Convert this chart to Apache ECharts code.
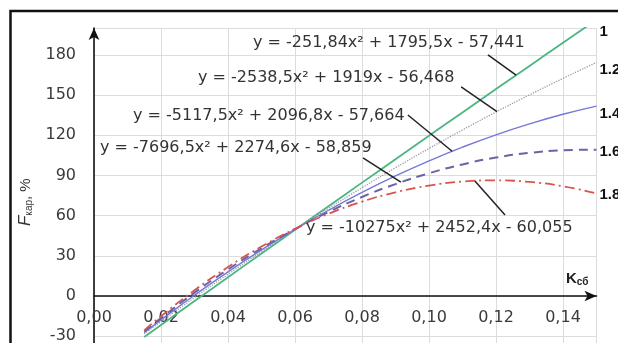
<!DOCTYPE html>
<html>
<head>
<meta charset="utf-8">
<script src="https://cdn.jsdelivr.net/npm/echarts@6/dist/echarts.min.js"></script>
<style>
  html, body { margin: 0; padding: 0; background: #fff; }
  #chart { width: 618px; height: 343px; }
</style>
</head>
<body>
<div id="chart"></div>
<script>
// Relative coefficient K_sb along the x axis
const kValues = [0.015, 0.02, 0.03, 0.04, 0.05, 0.06, 0.07, 0.08, 0.09, 0.10, 0.11, 0.12, 0.13, 0.14, 0.15];

// F_kap, % for each curve family
const curve1_0 = [-30.6, -21.6, -3.8, 14.0, 31.7, 49.4, 67.0, 84.6, 102.1, 119.6, 137.0, 154.4, 171.7, 189.0, 206.2];
const curve1_2 = [-28.3, -19.1, -1.2, 16.2, 33.1, 49.5, 65.4, 80.8, 95.7, 110.1, 123.9, 137.3, 150.1, 162.4, 174.3];
const curve1_4 = [-27.4, -17.8, 0.6, 18.0, 34.4, 49.7, 64.0, 77.3, 89.6, 100.8, 111.1, 120.3, 128.4, 135.6, 141.7];
const curve1_6 = [-26.5, -16.5, 2.5, 19.8, 35.6, 49.9, 62.7, 73.9, 83.5, 91.6, 98.2, 103.3, 106.8, 108.7, 109.2];
const curve1_8 = [-25.6, -15.1, 4.3, 21.6, 36.9, 50.1, 61.3, 70.4, 77.4, 82.4, 85.4, 86.3, 85.1, 81.9, 76.6];

const curveNames = ['1', '1.2', '1.4', '1.6', '1.8'];

// Trend-line equations
const equations = [
  'y = -251,84x² + 1795,5x - 57,441',
  'y = -2538,5x² + 1919x - 56,468',
  'y = -5117,5x² + 2096,8x - 57,664',
  'y = -7696,5x² + 2274,6x - 58,859',
  'y = -10275x² + 2452,4x - 60,055'
];

// Leader lines from each equation to its curve, in data units [K, F]
const leaders = [
  [[0.1176, 179.9], [0.1260, 164.8]],
  [[0.1096, 156.0], [0.1203, 137.6]],
  [[0.0937, 135.1], [0.1069, 108.0]],
  [[0.0803, 103.0], [0.0916, 84.9]],
  [[0.1227, 60.4], [0.1137, 85.8]]
];

const xTicks = { min: 0, max: 0.15, step: 0.02 };
const yTicks = { min: -60, max: 200, step: 30 };

const FONT = 'DejaVu Sans';

// Plot area: the lower part (below -30) runs past the bottom edge
const GRID = { left: 94, top: 28, width: 502.5, height: 348.4 };
// Distance from the grid bottom up to the F = 0 line
const zeroLift = GRID.height * (0 - yTicks.min) / (yTicks.max - yTicks.min);

const styles = [
  { color: '#4cb582', width: 1.8, type: 'solid', labelDy: 12 },
  { color: '#9c9cab', width: 1.3, type: 'dotted', labelDy: 7 },
  { color: '#7478d6', width: 1.4, type: 'solid', labelDy: 8 },
  { color: '#6c63a6', width: 2.0, type: [9, 6], labelDy: 2 },
  { color: '#d9534f', width: 1.8, type: [10, 4, 2, 4], labelDy: 2 }
];

const curves = [curve1_0, curve1_2, curve1_4, curve1_6, curve1_8];

const series = curves.map((vals, i) => ({
  name: curveNames[i],
  type: 'line',
  smooth: true,
  showSymbol: false,
  clip: true,
  animation: false,
  data: kValues.map((k, j) => [k, vals[j]]),
  lineStyle: { color: styles[i].color, width: styles[i].width, type: styles[i].type },
  endLabel: {
    show: true,
    formatter: curveNames[i],
    distance: 3,
    offset: [0, styles[i].labelDy],
    color: '#111',
    fontFamily: 'Liberation Sans',
    fontWeight: 'bold',
    fontSize: 15
  },
  markLine: {
    silent: true,
    animation: false,
    symbol: ['none', 'none'],
    label: { show: false },
    lineStyle: { color: '#222', width: 1.5, type: 'solid' },
    data: [[{ coord: leaders[i][0] }, { coord: leaders[i][1] }]]
  }
}));

// Equation captions (left edge x, middle y)
const eqPos = [[253, 43], [198, 78], [133, 116], [100, 148], [306, 228]];

const graphics = [
  {
    type: 'rect', silent: true, z: 100,
    shape: { x: 10.5, y: 11, width: 700, height: 400 },
    style: { fill: 'none', stroke: '#111', lineWidth: 2.5 }
  },
  {
    type: 'text', silent: true, z: 100, x: 566, y: 279,
    style: {
      text: '{k|K}{s|сб}',
      verticalAlign: 'middle',
      rich: {
        k: { font: 'bold 15px "Liberation Sans"', fill: '#222' },
        s: { font: 'bold 10px "Liberation Sans"', fill: '#222', padding: [6, 0, 0, 0] }
      }
    }
  }
].concat(equations.map((t, i) => ({
  type: 'text', silent: true, z: 100,
  x: eqPos[i][0], y: eqPos[i][1],
  style: { text: t, font: '16px "' + FONT + '"', fill: '#333', verticalAlign: 'middle' }
})));

const option = {
  backgroundColor: '#fff',
  animation: false,
  grid: Object.assign({ containLabel: false, outerBoundsMode: 'none' }, GRID),
  xAxis: {
    type: 'value',
    min: xTicks.min, max: xTicks.max, interval: xTicks.step,
    position: 'bottom',
    offset: -zeroLift,
    axisLine: {
      onZero: false,
      symbol: ['none', 'arrow'], symbolSize: [8, 12],
      lineStyle: { color: '#111', width: 1.6 }
    },
    axisTick: { show: false },
    axisLabel: {
      margin: 14,
      color: '#3a3a3a',
      fontFamily: FONT,
      fontSize: 16,
      formatter: v => (v > 0.145 ? '' : v.toFixed(2).replace('.', ','))
    },
    splitLine: { show: true, lineStyle: { color: '#dcdcdc', width: 1 } }
  },
  yAxis: {
    type: 'value',
    min: yTicks.min, max: yTicks.max, interval: yTicks.step,
    name: '{f|F}{s|кар}{n|, %}',
    nameLocation: 'middle',
    nameRotate: 90,
    nameGap: 57,
    nameTextStyle: {
      rich: {
        f: { fontFamily: 'Liberation Sans', fontStyle: 'italic', fontSize: 17, color: '#333' },
        s: { fontFamily: 'Liberation Sans', fontSize: 10, color: '#333', padding: [8, 0, 0, 0] },
        n: { fontFamily: 'Liberation Sans', fontSize: 15, color: '#333' }
      }
    },
    axisLine: {
      show: true,
      symbol: ['none', 'arrow'], symbolSize: [8, 12],
      lineStyle: { color: '#111', width: 1.6 }
    },
    axisTick: { show: false },
    axisLabel: {
      margin: 18,
      color: '#3a3a3a',
      fontFamily: FONT,
      fontSize: 16,
      formatter: v => (v > 190 ? '' : String(v))
    },
    splitLine: { show: true, lineStyle: { color: '#dcdcdc', width: 1 } }
  },
  graphic: graphics,
  series: series
};

const chart = echarts.init(document.getElementById('chart'), null, { renderer: 'canvas' });
chart.setOption(option);
</script>
</body>
</html>
